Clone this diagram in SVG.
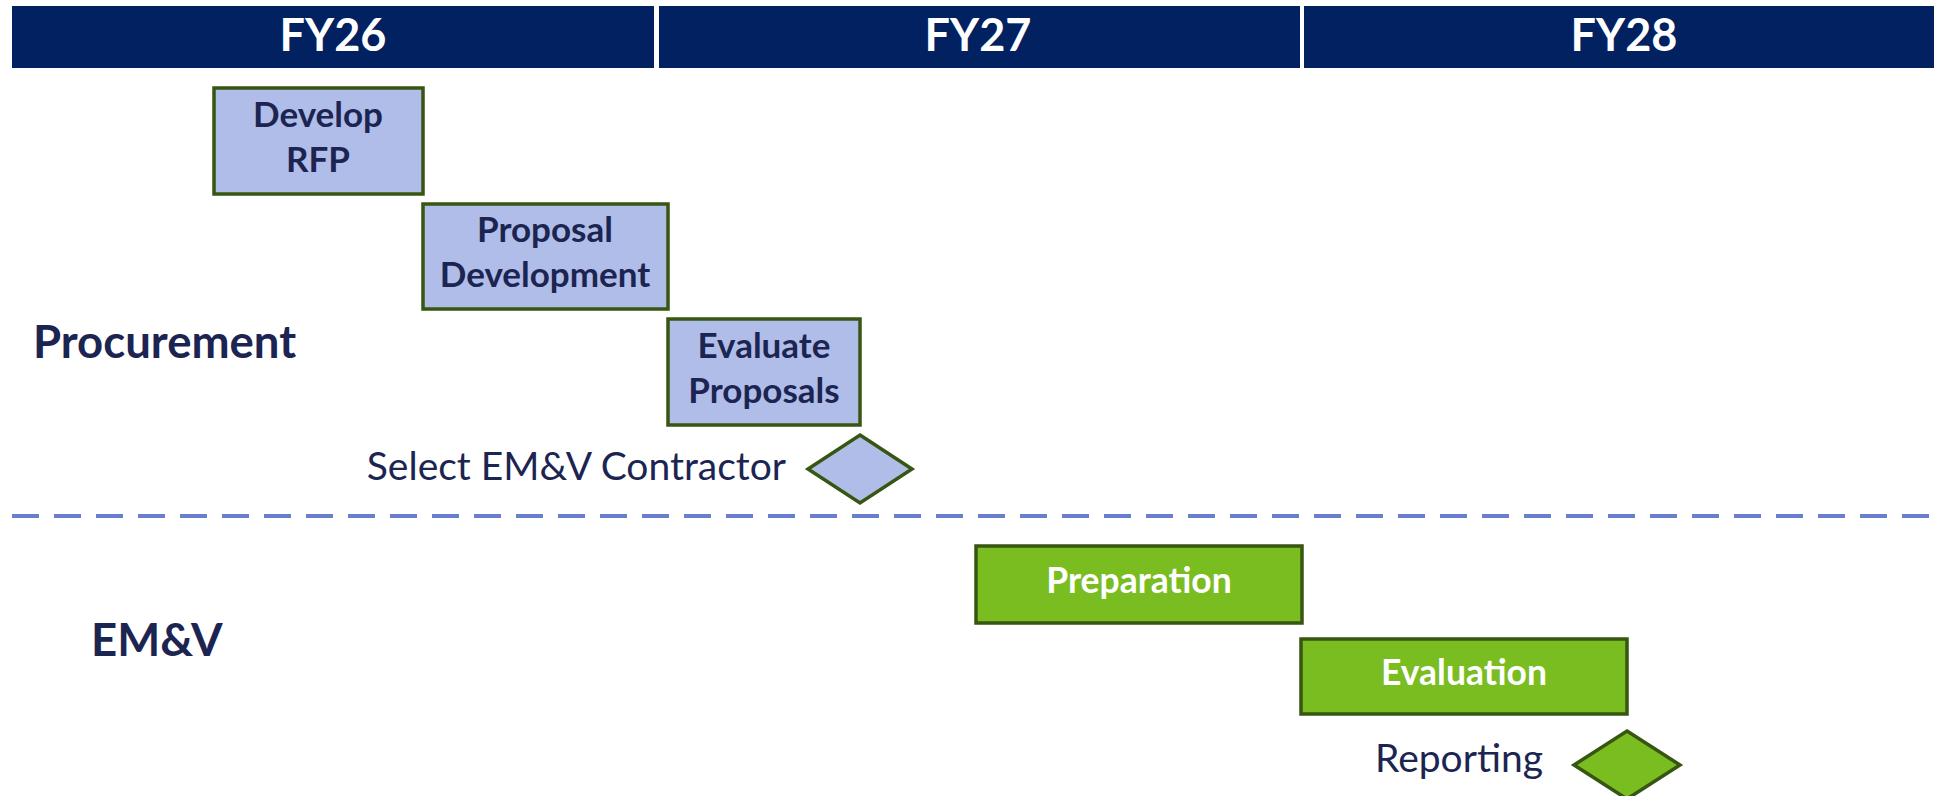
<svg xmlns="http://www.w3.org/2000/svg" width="1934" height="796" viewBox="0 0 1934 796">
  <style>
    .hdr { fill: #012160; }
    .hdr-t { font-family: Lato, "Liberation Sans", sans-serif; font-weight: 700; font-size: 45px; fill: #ffffff; text-anchor: middle; }
    .lane { font-family: Lato, "Liberation Sans", sans-serif; font-weight: 700; font-size: 45.5px; fill: #1c2551; }
    .task { fill: #afbde8; stroke: #375611; stroke-width: 3.5; }
    .task-g { fill: #79bd21; stroke: #375611; stroke-width: 3.5; }
    .task-t { font-family: Lato, "Liberation Sans", sans-serif; font-weight: 700; font-size: 35px; fill: #1c2551; text-anchor: middle; }
    .task-tw { font-family: Lato, "Liberation Sans", sans-serif; font-weight: 700; font-size: 35.5px; fill: #ffffff; text-anchor: middle; }
    .ms-t { font-family: Lato, "Liberation Sans", sans-serif; font-weight: 400; font-size: 39px; fill: #1c2551; text-anchor: end; }
    .divider { stroke: #6a7ed0; stroke-width: 4; stroke-dasharray: 27 15; fill: none; }
  </style>

  <!-- fiscal year header -->
  <g id="header">
    <rect class="hdr" x="12" y="6" width="642" height="62"/>
    <rect class="hdr" x="659" y="6" width="641" height="62"/>
    <rect class="hdr" x="1304" y="6" width="630" height="62"/>
    <text class="hdr-t" x="333" y="51">FY26</text>
    <text class="hdr-t" x="978" y="51">FY27</text>
    <text class="hdr-t" x="1624" y="51">FY28</text>
  </g>

  <!-- swimlane labels -->
  <g id="lane-procurement"><text class="lane" x="33" y="358">Procurement</text></g>
  <g id="lane-emv"><text class="lane" x="91" y="656">EM&amp;V</text></g>

  <!-- lane separator -->
  <g id="connectors">
    <line class="divider" x1="12" y1="516" x2="1934" y2="516"/>
  </g>

  <!-- procurement tasks -->
  <g id="develop-rfp">
    <rect class="task" x="214" y="88" width="209" height="106"/>
    <text class="task-t" x="318" y="127">Develop</text>
    <text class="task-t" x="318" y="172">RFP</text>
  </g>
  <g id="proposal-development">
    <rect class="task" x="423" y="204" width="245" height="105"/>
    <text class="task-t" x="545" y="242">Proposal</text>
    <text class="task-t" x="545" y="287">Development</text>
  </g>
  <g id="evaluate-proposals">
    <rect class="task" x="668" y="319" width="192" height="106"/>
    <text class="task-t" x="764" y="358">Evaluate</text>
    <text class="task-t" x="764" y="403">Proposals</text>
  </g>
  <g id="select-contractor">
    <polygon class="task" points="860,435 912,469 860,503 808,469"/>
    <text class="ms-t" x="786" y="480">Select EM&amp;V Contractor</text>
  </g>

  <!-- EM&V tasks -->
  <g id="preparation">
    <rect class="task-g" x="976" y="546" width="326" height="77"/>
    <text class="task-tw" x="1139" y="593">Preparation</text>
  </g>
  <g id="evaluation">
    <rect class="task-g" x="1301" y="639" width="326" height="75"/>
    <text class="task-tw" x="1464" y="685">Evaluation</text>
  </g>
  <g id="reporting">
    <polygon class="task-g" points="1627,731 1680,765 1627,799 1574,765"/>
    <text class="ms-t" x="1543" y="772">Reporting</text>
  </g>
</svg>
